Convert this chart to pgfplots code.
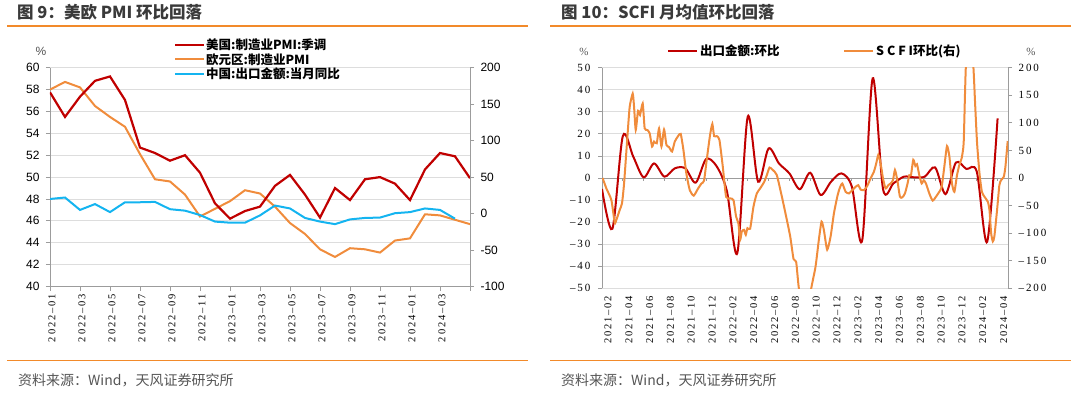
\documentclass[border=0pt]{standalone}
\usepackage{pgfplots}
\pgfplotsset{compat=1.18}
\usepackage{fontspec}
\setmainfont{Liberation Sans}
\newfontfamily\cjk{Noto Sans CJK SC}
\newfontfamily\sun[LetterSpace=18]{Liberation Serif}
\definecolor{cred}{HTML}{C00000}
\definecolor{corange}{HTML}{F08C3C}
\definecolor{cblue}{HTML}{14B4F0}
\definecolor{crule}{HTML}{F28A2A}
\definecolor{axgray}{HTML}{9C9C9C}
\definecolor{gridgray}{HTML}{DDDDDD}
\definecolor{ttl}{HTML}{3A3A3A}
\definecolor{src}{HTML}{555555}

\pgfplotsset{
  base/.style={scale only axis, axis line style={-,axgray,line width=0.8pt},
    tick style={axgray,line width=0.8pt}, major tick length=4pt, tick align=outside,
    grid style={gridgray,line width=0.8pt}, clip=true},
}

\begin{document}
\begin{tikzpicture}[x=1pt,y=1pt]
\path[use as bounding box] (0,0) rectangle (1080,394);

% ================= LEFT CHART =================
\begin{axis}[base, at={(50pt,107.5pt)}, anchor=south west, width=420pt, height=218.8pt,
  xmin=0, xmax=28, ymin=40, ymax=60,
  axis x line*=bottom, axis y line*=left, ymajorgrids,
  ytick={40,42,...,60},
  yticklabels={40,42,44,46,48,50,52,54,56,58,60},
  yticklabel style={font=\fontsize{12}{12}\selectfont, xshift=-3pt},
  xtick={0,2,...,28},
  xticklabels={2022–01,2022–03,2022–05,2022–07,2022–09,2022–11,2023–01,2023–03,2023–05,2023–07,2023–09,2023–11,2024–01,2024–03,{}},
  xticklabel style={rotate=90, anchor=east, font=\sun\fontsize{10.5}{10.5}\selectfont, xshift=0pt, yshift=-2pt},
]
\addplot[corange, line width=2pt] coordinates {
(0,58.0)(1,58.7)(2,58.2)(3,56.5)(4,55.5)(5,54.6)(6,52.1)(7,49.8)(8,49.6)(9,48.4)(10,46.4)(11,47.1)(12,47.8)(13,48.8)(14,48.5)(15,47.3)(16,45.8)(17,44.8)(18,43.4)(19,42.7)(20,43.5)(21,43.4)(22,43.1)(23,44.2)(24,44.4)(25,46.6)(26,46.5)(27,46.1)(28,45.7)};
\addplot[cred, line width=2.2pt] coordinates {
(0,57.75)(1,55.5)(2,57.35)(3,58.8)(4,59.2)(5,57.05)(6,52.7)(7,52.2)(8,51.5)(9,52.0)(10,50.4)(11,47.6)(12,46.2)(13,46.9)(14,47.3)(15,49.2)(16,50.2)(17,48.4)(18,46.3)(19,49.0)(20,47.9)(21,49.8)(22,50.0)(23,49.4)(24,47.9)(25,50.7)(26,52.2)(27,51.9)(28,49.9)};
\end{axis}
\begin{axis}[base, at={(50pt,107.5pt)}, anchor=south west, width=420pt, height=218.8pt,
  xmin=0, xmax=28, ymin=-100, ymax=200,
  axis x line=none, axis y line*=right,
  ytick={-100,-50,...,200},
  yticklabels={-100,-50,0,50,100,150,200},
  yticklabel style={font=\fontsize{12}{12}\selectfont, xshift=3pt},
]
\addplot[cblue, line width=2pt] coordinates {
(0,20)(1,22)(2,5)(3,13)(4,2)(5,15.5)(6,15.5)(7,16)(8,6)(9,4)(10,-2)(11,-11)(12,-12.5)(13,-12.5)(14,-2.5)(15,11)(16,7)(17,-6)(18,-11)(19,-14.5)(20,-8)(21,-6)(22,-5.5)(23,0.5)(24,2)(25,7)(26,5)(27,-7)};
\end{axis}

% titles / legend / rules (left)
\node[anchor=west, text=ttl, inner sep=0] at (17,382) {\cjk\bfseries\fontsize{16.5}{16.5}\selectfont 图 9：美欧 PMI 环比回落};
\draw[crule, line width=1.3pt] (7,368) -- (528,368);
\draw[crule, line width=1.3pt] (7,33.5) -- (528,33.5);
\node[anchor=west, text=src, inner sep=0] at (18,14) {\cjk\fontsize{14}{14}\selectfont 资料来源：Wind，天风证券研究所};
\node[text=src, inner sep=0] at (41,343) {\fontsize{12}{12}\selectfont \%};
\draw[cred, line width=2pt] (175,349) -- (204,349);
\node[anchor=west, inner sep=0] at (206,349) {\cjk\bfseries\fontsize{12.5}{12.5}\selectfont 美国:制造业PMI:季调};
\draw[corange, line width=2pt] (175,334.5) -- (204,334.5);
\node[anchor=west, inner sep=0] at (206,334.5) {\cjk\bfseries\fontsize{12.5}{12.5}\selectfont 欧元区:制造业PMI};
\draw[cblue, line width=2pt] (175,320) -- (204,320);
\node[anchor=west, inner sep=0] at (206,320) {\cjk\bfseries\fontsize{12.5}{12.5}\selectfont 中国:出口金额:当月同比};

% ================= RIGHT CHART =================
\begin{axis}[base, at={(602pt,105.7pt)}, anchor=south west, width=406pt, height=220.6pt,
  xmin=0, xmax=39, ymin=-50, ymax=50,
  axis x line*=bottom, axis y line*=left, ymajorgrids,
  x axis line style={draw=none}, xtick style={draw=none},
  ytick={-50,-40,...,50},
  yticklabels={–50,–40,–30,–20,–10,0,10,20,30,40,50},
  yticklabel style={font=\sun\fontsize{11}{11}\selectfont, xshift=-4pt},
  xtick={0,2,...,38},
  xticklabels={2021–02,2021–04,2021–06,2021–08,2021–10,2021–12,2022–02,2022–04,2022–06,2022–08,2022–10,2022–12,2023–02,2023–04,2023–06,2023–08,2023–10,2023–12,2024–02,2024–04},
  xticklabel style={rotate=90, anchor=east, font=\sun\fontsize{10.5}{10.5}\selectfont, yshift=-6pt},
]
\draw[axgray, line width=0.9pt] (axis cs:0,0) -- (axis cs:39,0);
\pgfplotsinvokeforeach{2,4,...,38}{\draw[axgray, line width=0.8pt] (axis cs:#1,0) -- ++(0pt,-3pt);}
\addplot[cred, line width=2pt, smooth, tension=0.5] coordinates {
(0,-5)(1,-23)(2,19)(3,9.7)(4,0.3)(5,6.6)(6,0.6)(7,4.4)(8,4.4)(9,-2.1)(10,8.6)(11,5.4)(12,-6)(13,-34)(14,27.8)(15,-1.7)(16,13.4)(17,6.6)(18,2.1)(19,-5.1)(20,2.4)(21,-7.7)(22,-1.7)(23,2.1)(24,-3.9)(25,-28.1)(26,45.2)(27,-5.1)(28,-2.4)(29,0.6)(30,0.3)(31,0.6)(32,4.8)(33,-7.3)(34,7.0)(35,4.1)(36,2.9)(37,-28.9)(38,27.0)};
\end{axis}
\begin{axis}[base, at={(602pt,105.7pt)}, anchor=south west, width=406pt, height=220.6pt,
  xmin=0, xmax=39, ymin=-200, ymax=200,
  axis x line=none, axis y line*=right,
  ytick={-200,-150,...,200},
  yticklabels={–200,–150,–100,–50,0,50,100,150,200},
  yticklabel style={font=\sun\fontsize{11}{11}\selectfont, xshift=3pt},
]
\addplot[corange, line width=2pt, smooth, tension=0.35] coordinates {
(0.06,0)(0.42,-19)(0.9,-40)(1.22,-81)(1.38,-76)(1.7,-58)(1.92,-46)(2.12,-10)(2.44,75)(2.66,129)(2.95,153)(3.08,129)(3.24,87)(3.46,122)(3.65,114)(3.91,135)(4.1,90)(4.36,87)(4.58,81)(4.81,57)(5.0,66)(5.26,63)(5.48,90)(5.71,57)(5.96,88)(6.19,60)(6.44,56)(6.73,48)(6.99,66)(7.31,76)(7.56,80)(7.82,51)(8.1,8.5)(8.43,-22)(8.81,-32)(9.23,-19)(9.55,-10)(9.8,-5)(10.06,33)(10.38,78)(10.6,98)(10.77,76)(11.03,76)(11.28,69)(11.6,21)(11.92,-34)(12.31,-37)(12.63,-40)(12.88,-70)(13.1,-82)(13.27,-112)(13.43,-97)(13.65,-94)(13.81,-103)(13.97,-91)(14.23,-92)(14.55,-52)(14.87,-28)(15.19,-19)(15.58,-7)(15.83,5)(16.09,19)(16.41,14.5)(16.79,5.4)(17.28,-34)(17.69,-70)(18.08,-106)(18.4,-147)(18.65,-152)(18.91,-200)(19.5,-270)(20.1,-200)(20.51,-161)(20.83,-112)(21.09,-79)(21.31,-94)(21.63,-130)(21.96,-106)(22.28,-64)(22.6,-34)(22.82,-19)(23.08,-10)(23.4,-25)(23.72,-28)(24.04,-22)(24.36,-16)(24.62,-13)(24.84,-21)(25.16,-22)(25.48,-14.5)(25.8,-0.6)(26.12,11.5)(26.35,27)(26.54,42)(26.76,27)(26.99,-0.6)(27.24,-19)(27.5,-13)(27.72,-10)(27.95,-4)(28.14,14.5)(28.37,-4)(28.62,-34)(28.85,-35)(29.1,-28)(29.35,-10)(29.52,5)(29.68,5)(29.9,33)(30.1,22)(30.26,25)(30.48,5)(30.71,-10)(30.9,-4)(31.12,-10)(31.44,-28)(31.76,-41)(32.08,-34)(32.4,-25)(32.63,-16)(32.88,20)(33.14,58)(33.37,39)(33.62,-10)(33.85,-25)(34.1,5)(34.33,24)(34.55,36)(34.74,63)(34.87,153)(34.97,210)(35.3,300)(35.68,200)(35.84,135)(36.03,63)(36.26,8.5)(36.49,-25)(36.74,-34)(37.06,-43)(37.22,-58)(37.38,-100)(37.54,-115)(37.69,-106)(37.95,-58)(38.17,-13)(38.33,-4)(38.59,2)(38.75,20)(38.97,67)};
\end{axis}

% titles / legend / rules (right)
\node[anchor=west, text=ttl, inner sep=0] at (561,382) {\cjk\bfseries\fontsize{16.5}{16.5}\selectfont 图 10：SCFI 月均值环比回落};
\draw[crule, line width=1.3pt] (550,368) -- (1071,368);
\draw[crule, line width=1.3pt] (550,33.5) -- (1071,33.5);
\node[anchor=west, text=src, inner sep=0] at (561,14) {\cjk\fontsize{14}{14}\selectfont 资料来源：Wind，天风证券研究所};
\node[text=src, inner sep=0] at (584,342) {\sun\fontsize{11}{11}\selectfont \%};
\node[text=src, inner sep=0] at (1031,342) {\sun\fontsize{11}{11}\selectfont \%};
\draw[cred, line width=2pt] (668,343) -- (697,343);
\node[anchor=west, inner sep=0] at (700,343) {\cjk\bfseries\fontsize{12.5}{12.5}\selectfont 出口金额:环比};
\draw[corange, line width=2pt] (844,343) -- (873,343);
\node[anchor=west, inner sep=0] at (876,343) {\cjk\bfseries\fontsize{12.5}{12.5}\selectfont S C F I环比(右)};
\end{tikzpicture}
\end{document}
